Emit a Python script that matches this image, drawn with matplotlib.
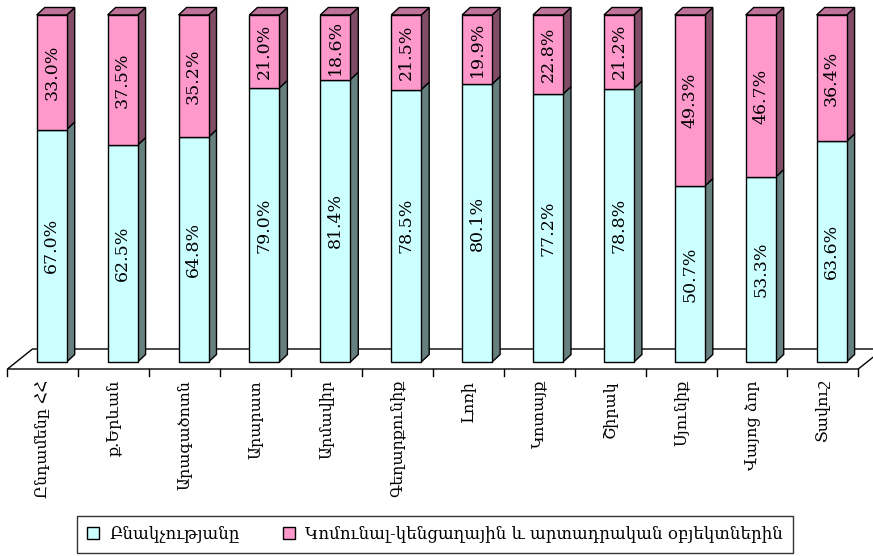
import numpy as np
import matplotlib
matplotlib.use('Agg')
import matplotlib.pyplot as plt
from matplotlib.patches import Polygon, Rectangle, Patch

#--data--#
regions = ['Ընդամենը ՀՀ', 'ք.Երևան', 'Արագածոտն', 'Արարատ', 'Արմավիր', 'Գեղարքունիք',
           'Լոռի', 'Կոտայք', 'Շիրակ', 'Սյունիք', 'Վայոց ձոր', 'Տավուշ']
population = [67.0, 62.5, 64.8, 79.0, 81.4, 78.5, 80.1, 77.2, 78.8, 50.7, 53.3, 63.6]
objects = [33.0, 37.5, 35.2, 21.0, 18.6, 21.5, 19.9, 22.8, 21.2, 49.3, 46.7, 36.4]
series_names = ['Բնակչությանը', 'Կոմունալ-կենցաղային և արտադրական օբյեկտներին']

#--colors--#
BLUE_FACE, BLUE_SIDE = '#CCFFFF', '#668080'
PINK_FACE, PINK_SIDE, PINK_TOP = '#FF99CC', '#804C66', '#BF7399'
SERIF = 'DejaVu Serif'

W, H = 873, 556
fig = plt.figure(figsize=(W / 100, H / 100), dpi=100)
ax = fig.add_axes([0, 0, 1, 1])
ax.axis('off')

#--pixel scale (category center / percent)--#
CAT_PX = 70.9
PCT_PX = 3.47
X0_PX = 51.7
Y0_PX = 362.0
ax.set_xlim(-X0_PX / CAT_PX, (W - X0_PX) / CAT_PX)
ax.set_ylim((Y0_PX - H) / PCT_PX, Y0_PX / PCT_PX)

def px(dx, dy):
    return dx / CAT_PX, dy / PCT_PX

n = len(regions)
bw = 30 / CAT_PX
ddx, ddy = px(8, 7.5)          # bar depth
fdx, fdy = px(-8.75, -7)       # floor front edge offset
bdx, bdy = px(16.25, 13)       # floor back edge offset

#--floor--#
floor = Polygon([(-0.5 + fdx, fdy), (n - 0.5 + fdx, fdy),
                 (n - 0.5 + bdx, bdy), (-0.5 + bdx, bdy)],
                closed=True, facecolor='white', edgecolor='black', lw=1.0, clip_on=False)
ax.add_patch(floor)

#--ticks & labels--#
tick_len = 7 / PCT_PX
for k in range(n + 1):
    xt = k - 0.5 + fdx
    ax.plot([xt, xt], [fdy, fdy - tick_len], color='black', lw=1.0, clip_on=False)
for i, name in enumerate(regions):
    ax.text(i + fdx, fdy - 11 / PCT_PX, name, rotation=90, ha='center', va='top',
            fontsize=11.5, family=SERIF)

#--bars--#
def draw_box(xc, y0, y1, face, side, top=None):
    xl, xr = xc - bw / 2, xc + bw / 2
    ax.add_patch(Polygon([(xr, y0), (xr + ddx, y0 + ddy), (xr + ddx, y1 + ddy), (xr, y1)],
                         closed=True, facecolor=side, edgecolor='black', lw=1.0))
    if top is not None:
        ax.add_patch(Polygon([(xl, y1), (xr, y1), (xr + ddx, y1 + ddy), (xl + ddx, y1 + ddy)],
                             closed=True, facecolor=top, edgecolor='black', lw=1.0))
    ax.add_patch(Rectangle((xl, y0), bw, y1 - y0, facecolor=face, edgecolor='black', lw=1.0))

for i in range(n):
    b = population[i]
    p = objects[i]
    draw_box(i, 0, b, BLUE_FACE, BLUE_SIDE)
    draw_box(i, b, b + p, PINK_FACE, PINK_SIDE, PINK_TOP)
    ax.text(i, b / 2, '%.1f%%' % b, rotation=90, ha='center', va='center',
            fontsize=12.5, family=SERIF)
    ax.text(i, b + p / 2, '%.1f%%' % p, rotation=90, ha='center', va='center',
            fontsize=12.5, family=SERIF)

#--legend--#
handles = [Patch(facecolor=BLUE_FACE, edgecolor='black', lw=1.0),
           Patch(facecolor=PINK_FACE, edgecolor='black', lw=1.0)]
leg = fig.legend(handles, series_names, loc='center', bbox_to_anchor=(435 / W, 1 - 534 / H),
                 ncol=2, frameon=True, fancybox=False, handlelength=0.75, handleheight=0.75,
                 handletextpad=0.6, columnspacing=2.6, borderpad=0.6,
                 prop={'family': SERIF, 'size': 12})
leg.get_frame().set_edgecolor('black')
leg.get_frame().set_linewidth(1.0)

fig.savefig('out.png', dpi=100)
